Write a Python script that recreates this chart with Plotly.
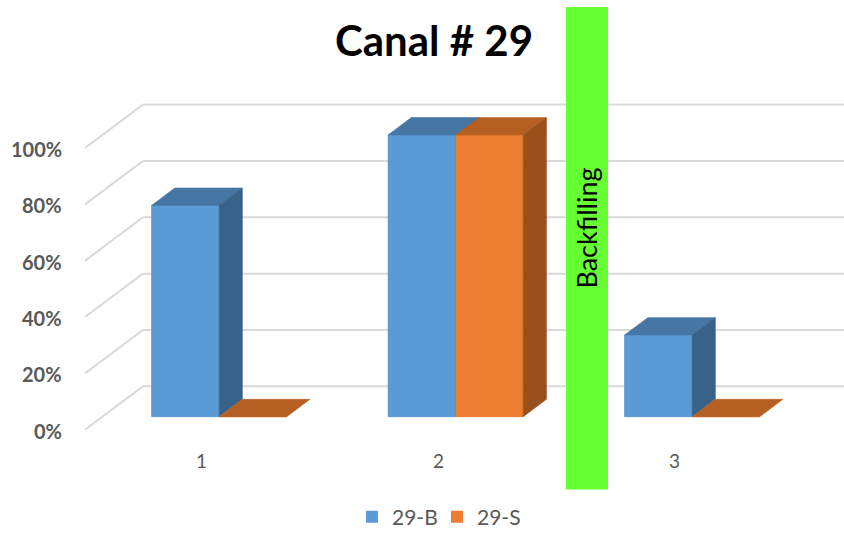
import plotly.graph_objects as go

# ---- data ----
categories = [1, 2, 3]
category_labels = ["1", "2", "3"]
series_names = ["29-B", "29-S"]
values_b = [0.75, 1.00, 0.29]
values_s = [0.00, 1.00, 0.00]
y_ticks = [0.0, 0.2, 0.4, 0.6, 0.8, 1.0]
y_tick_labels = ["0%", "20%", "40%", "60%", "80%", "100%"]

# ---- styling / pseudo-3D geometry (in axis units) ----
W, H = 844, 538
BAR_W = 1 / 3.5            # two bars per category, gap width 150%
DEPTH_X, DEPTH_Y = 0.245, 0.154   # projected floor depth
FRONT_GAP, BAR_DEPTH = 0.3, 0.4   # bar placement along the depth
BX, BY = BAR_DEPTH * DEPTH_X, BAR_DEPTH * DEPTH_Y
X_RANGE = [0.0733, 0.0733 + W / 236.5]
Y_RANGE = [423 / 286 - H / 286, 423 / 286]
WALL_LEFT = 0.4327         # front-left corner of the floor

FACE_COLORS = {
    "29-B": {"front": "#5B9BD5", "top": "#4676A3", "side": "#386289"},
    "29-S": {"front": "#ED7D31", "top": "#B55F22", "side": "#98501D"},
}
GRID = "#D9D9D9"
TEXT_GREY = "#595959"
FONT = "Lato"

fig = go.Figure()

# flat bar traces (front faces) - these carry the legend entries
for name, vals, off in [("29-B", values_b, -BAR_W), ("29-S", values_s, 0.0)]:
    fig.add_trace(go.Bar(
        x=categories, y=vals, width=BAR_W, offset=off, name=name,
        marker=dict(color=FACE_COLORS[name]["front"], line=dict(width=0)),
        hoverinfo="skip",
    ))


def face(xs, ys, color):
    fig.add_trace(go.Scatter(
        x=xs + [xs[0]], y=ys + [ys[0]], mode="lines", fill="toself",
        fillcolor=color, line=dict(color=color, width=0.6),
        hoverinfo="skip", showlegend=False,
    ))


# box faces, drawn left to right so nearer faces cover the ones behind
for i, c in enumerate(categories):
    for name, vals, x0 in [("29-B", values_b, c - BAR_W), ("29-S", values_s, c)]:
        v = vals[i]
        x1 = x0 + BAR_W
        col = FACE_COLORS[name]
        face([x0, x1, x1, x0], [0, 0, v, v], col["front"])
        face([x0, x1, x1 + BX, x0 + BX], [v, v, v + BY, v + BY], col["top"])
        if v > 0:
            face([x1, x1, x1 + BX, x1 + BX], [0, v, v + BY, BY], col["side"])

# back-wall gridlines and their diagonal side-wall segments
shapes = []
back_shift = (1 - FRONT_GAP) * DEPTH_Y
front_shift = FRONT_GAP * DEPTH_Y
for t in y_ticks:
    shapes.append(dict(type="line", layer="below", xref="x", yref="y",
                       x0=WALL_LEFT + DEPTH_X, x1=X_RANGE[1] + 0.1,
                       y0=t + back_shift, y1=t + back_shift,
                       line=dict(color=GRID, width=2)))
    shapes.append(dict(type="line", layer="below", xref="x", yref="y",
                       x0=WALL_LEFT, x1=WALL_LEFT + DEPTH_X,
                       y0=t - front_shift, y1=t + back_shift,
                       line=dict(color=GRID, width=2)))

# green "Backfilling" marker band
shapes.append(dict(type="rect", layer="above", xref="paper", yref="paper",
                   x0=566 / W, x1=608 / W, y0=1 - 497 / H, y1=1 - 7 / H,
                   fillcolor="#66FF33", line=dict(width=0)))

annotations = []
for t, lab in zip(y_ticks, y_tick_labels):
    annotations.append(dict(x=WALL_LEFT, y=t - front_shift, xref="x", yref="y",
                            text=lab, showarrow=False, xanchor="right",
                            yanchor="middle", xshift=-21, yshift=-1,
                            font=dict(family=FONT, size=20, color=TEXT_GREY,
                                      weight="bold")))
for c, lab in zip(categories, category_labels):
    annotations.append(dict(x=c - FRONT_GAP * DEPTH_X, y=-front_shift,
                            xref="x", yref="y", text=lab, showarrow=False,
                            xanchor="center", yanchor="middle", yshift=-31,
                            font=dict(family=FONT, size=19, color=TEXT_GREY)))

annotations.append(dict(x=434 / W, y=1 - 41 / H, xref="paper", yref="paper",
                        text="<b>Canal # 29</b>", showarrow=False,
                        xanchor="center", yanchor="middle",
                        font=dict(family=FONT, size=42, color="black")))
annotations.append(dict(x=587 / W, y=1 - 232 / H, xref="paper", yref="paper",
                        text="Backfilling", textangle=-90, showarrow=False,
                        xanchor="center", yanchor="middle",
                        font=dict(family=FONT, size=27, color="black")))

fig.update_layout(
    width=W, height=H,
    autosize=False,
    margin=dict(l=0, r=0, t=0, b=0),
    barmode="overlay",
    paper_bgcolor="white", plot_bgcolor="white",
    xaxis=dict(range=X_RANGE, visible=False, fixedrange=True),
    yaxis=dict(range=Y_RANGE, visible=False, fixedrange=True),
    shapes=shapes,
    annotations=annotations,
    showlegend=True,
    legend=dict(orientation="h", x=437 / W, y=1 - 525 / H,
                xanchor="center", yanchor="middle",
                bgcolor="rgba(0,0,0,0)",
                font=dict(family=FONT, size=21, color=TEXT_GREY),
                entrywidth=40, entrywidthmode="pixels"),
)

fig.write_html("out.html")
